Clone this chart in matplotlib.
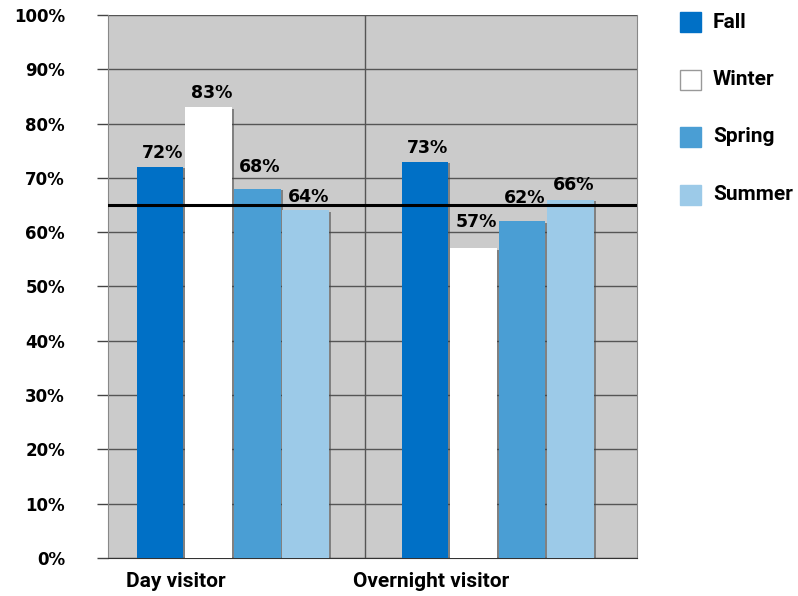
import matplotlib
matplotlib.use("Agg")
import matplotlib.pyplot as plt
import matplotlib.patheffects as pe
from matplotlib.patches import Rectangle

categories = ["Day visitor", "Overnight visitor"]
seasons = ["Fall", "Winter", "Spring", "Summer"]
values = {
    "Fall": [72, 73],
    "Winter": [83, 57],
    "Spring": [68, 62],
    "Summer": [64, 66],
}
colors = {"Fall": "#0070c6", "Winter": "#ffffff", "Spring": "#4a9ed4", "Summer": "#9ccae8"}
# how far each value label sits above its bar (data units), as in the original
label_lift = {
    "Fall": [1.7, 1.5],
    "Winter": [1.8, 3.9],
    "Spring": [3.1, 3.3],
    "Summer": [1.5, 1.8],
}
reference = 65
yticks = list(range(0, 101, 10))

fig = plt.figure(figsize=(7.98, 5.96), dpi=100)
ax = fig.add_axes([0.1353, 0.0638, 0.798 - 0.1353, 0.9748 - 0.0638])
ax.set_facecolor("#cbcbcb")

offsets = [-0.275, -0.092, 0.092, 0.275]
width = 0.176
shadow = [pe.SimplePatchShadow(offset=(1.6, -1.0), shadow_rgbFace="#444444", alpha=0.55), pe.Normal()]
for s, off in zip(seasons, offsets):
    xs = [i + off for i in range(len(categories))]
    ax.bar(xs, values[s], width=width, color=colors[s], zorder=3, path_effects=shadow)
    for x, v, lift in zip(xs, values[s], label_lift[s]):
        ax.text(x + 0.01, v + lift, f"{v}%", ha="center", va="baseline", fontsize=12.5,
                fontweight="bold", family="DejaVu Sans", zorder=5)

ax.axhline(reference, color="black", lw=2.2, zorder=4)
ax.axvline(0.5, color="#555555", lw=1, zorder=1)

ax.set_xlim(-0.472, 1.525)
ax.set_ylim(0, 100)
ax.set_yticks(yticks)
ax.set_yticklabels([f"{t}%" for t in yticks], fontsize=12, fontweight="bold", family="DejaVu Sans")
ax.tick_params(axis="y", length=8, width=1, color="#444444", pad=23)
ax.set_xticks([])
ax.yaxis.grid(True, color="#555555", lw=1)
ax.set_axisbelow(True)
for side in ["left", "right"]:
    ax.spines[side].set_color("#888888")
ax.spines["top"].set_visible(False)
ax.spines["bottom"].set_color("#333333")

label_x = [-0.215, 0.75]
for x, c in zip(label_x, categories):
    ax.text(x, -4.4, c, ha="center", va="center", fontsize=15, fontweight="bold",
            family="Roboto", clip_on=False)

# legend on the right
for i, s in enumerate(seasons):
    yc = 1 - (22 + 57.5 * i) / 596
    fig.patches.append(Rectangle((680 / 798, yc - 10 / 596), 21 / 798, 20 / 596,
                                 transform=fig.transFigure, facecolor=colors[s],
                                 edgecolor="#999999" if s == "Winter" else colors[s], lw=1))
    fig.text(713 / 798, yc, s, ha="left", va="center", fontsize=15, fontweight="bold",
             family="Roboto")

fig.savefig("out.png", dpi=100)
